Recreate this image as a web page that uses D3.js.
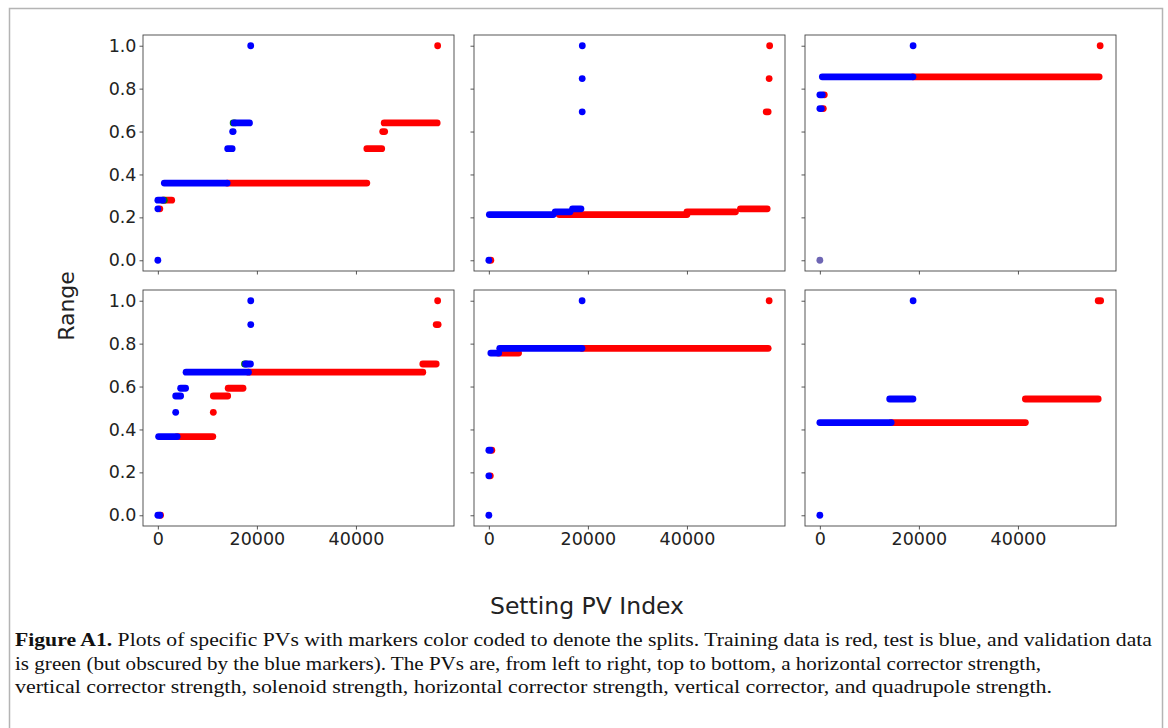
<!DOCTYPE html>
<html>
<head>
<meta charset="utf-8">
<script src="https://cdn.jsdelivr.net/npm/d3@7"></script>
<style>
  body { margin: 0; background: #fff; }
  svg { display: block; }
</style>
</head>
<body>
<svg width="1168" height="728"></svg>
<script>
// one entry per panel, left to right, top to bottom
// each run is [firstIndex, lastIndex, range]; a single point has firstIndex == lastIndex
var pvNames = ['horizontal corrector', 'vertical corrector', 'solenoid',
    'horizontal corrector', 'vertical corrector', 'quadrupole'];

var trainRuns = [
    [[400, 400, 0.24], [1200, 2800, 0.28], [14000, 42200, 0.36], [42200, 45200, 0.52], [45400, 45800, 0.60], [45700, 56400, 0.64], [56500, 56500, 1.0]],
    [[400, 400, 0], [14200, 40000, 0.213], [40000, 49800, 0.226], [50800, 56200, 0.24], [56000, 56400, 0.692], [56600, 56600, 0.847], [56700, 56700, 1.0]],
    [[700, 700, 0.707], [900, 900, 0.771], [18800, 56400, 0.855], [56600, 56600, 1.0]],
    [[550, 550, 0], [3900, 11100, 0.367], [11200, 11200, 0.48], [11200, 14100, 0.556], [14200, 17200, 0.592], [18300, 53500, 0.667], [53500, 56200, 0.705], [56200, 56600, 0.889], [56500, 56500, 1.0]],
    [[300, 300, 0.184], [600, 600, 0.303], [1900, 6000, 0.756], [18800, 56400, 0.778], [56600, 56600, 1.0]],
    [[14400, 41500, 0.432], [41500, 56200, 0.542], [56200, 56700, 1.0]]
];

var validRuns = [
    [[1000, 1300, 0.28], [15200, 15500, 0.64]],
    [],
    [],
    [[17500, 17800, 0.705]],
    [],
    []
];

var testRuns = [
    [[0, 0, 0], [0, 0, 0.24], [0, 1000, 0.28], [1300, 14000, 0.36], [14100, 15000, 0.52], [15100, 15200, 0.60], [15400, 18500, 0.64], [18750, 18750, 1.0]],
    [[0, 0, 0], [100, 13000, 0.213], [13400, 16400, 0.226], [16900, 18600, 0.24], [18850, 18850, 0.692], [18850, 18850, 0.847], [18870, 18870, 1.0]],
    [[0, 300, 0.707], [0, 500, 0.771], [500, 18800, 0.855], [18830, 18830, 1.0]],
    [[0, 400, 0], [150, 3900, 0.367], [3600, 3600, 0.48], [3600, 4600, 0.556], [4600, 5600, 0.592], [5700, 18300, 0.667], [17700, 18700, 0.705], [18760, 18760, 0.889], [18760, 18760, 1.0]],
    [[0, 0, 0], [0, 0, 0.184], [0, 300, 0.303], [400, 2000, 0.756], [2200, 18800, 0.778], [18830, 18830, 1.0]],
    [[0, 0, 0], [0, 14400, 0.432], [14100, 18800, 0.542], [18830, 18830, 1.0]]
];

// all three splits stacked on the same point (shows as a mixed colour)
var mixedPoints = [[], [], [[0, 0, 0]], [], [], []];

var xTicks = [0, 20000, 40000];
var yTicks = [0, 0.2, 0.4, 0.6, 0.8, 1.0];

var captionLines = [
    { bold: 'Figure A1.', text: ' Plots of specific PVs with markers color coded to denote the splits. Training data is red, test is blue, and validation data', width: 1137 },
    { bold: '', text: 'is green (but obscured by the blue markers). The PVs are, from left to right, top to bottom, a horizontal corrector strength,', width: 1026 },
    { bold: '', text: 'vertical corrector strength, solenoid strength, horizontal corrector strength, vertical corrector, and quadrupole strength.', width: 1037 }
];

var svg = d3.select('svg');

// figure frame
svg.append('rect')
    .attr('x', 9.5).attr('y', 8.5)
    .attr('width', 1153).attr('height', 760)
    .attr('fill', 'none')
    .attr('stroke', '#b4b4b4')
    .attr('stroke-width', 1.5);

var panelW = 311, panelH = 236;
var left0 = 143, colStep = 331;
var top0 = 35, rowStep = 255;
var r = 3.4;

var x = d3.scaleLinear().domain([-3000, 59800]).range([0, panelW]);
var y = d3.scaleLinear().domain([-0.05, 1.05]).range([panelH, 0]);

var splits = [
    { runs: trainRuns, color: '#ff0000' },
    { runs: validRuns, color: '#008000' },
    { runs: testRuns, color: '#0000ff' },
    { runs: mixedPoints, color: '#6e66b4' }
];

pvNames.forEach(function (name, i) {
    var col = i % 3, row = Math.floor(i / 3);
    var g = svg.append('g')
        .attr('class', 'panel')
        .attr('transform', 'translate(' + (left0 + col * colStep) + ',' + (top0 + row * rowStep) + ')');

    var yAxis = d3.axisLeft(y).tickValues(yTicks).tickSize(3.5).tickPadding(3)
        .tickFormat(col === 0 ? d3.format('.1f') : '');
    var xAxis = d3.axisBottom(x).tickValues(xTicks).tickSize(3.5).tickPadding(3)
        .tickFormat(row === 1 ? d3.format('d') : '');

    var ya = g.append('g').call(yAxis);
    var xa = g.append('g').attr('transform', 'translate(0,' + panelH + ')').call(xAxis);
    [ya, xa].forEach(function (a) {
        a.select('.domain').remove();
        a.selectAll('line').attr('stroke', '#444').attr('stroke-width', 0.9);
        a.selectAll('text')
            .attr('fill', '#222')
            .style('font-family', 'DejaVu Sans')
            .style('font-size', '17.5px');
    });

    splits.forEach(function (s) {
        g.selectAll(null)
            .data(s.runs[i])
            .enter().append('rect')
            .attr('x', function (d) { return x(d[0]) - r; })
            .attr('y', function (d) { return y(d[2]) - r; })
            .attr('width', function (d) { return x(d[1]) - x(d[0]) + 2 * r; })
            .attr('height', 2 * r)
            .attr('rx', r)
            .attr('fill', s.color);
    });

    g.append('rect')
        .attr('width', panelW).attr('height', panelH)
        .attr('fill', 'none')
        .attr('stroke', '#444')
        .attr('stroke-width', 0.9);
});

svg.append('text')
    .attr('transform', 'translate(74,306) rotate(-90)')
    .attr('text-anchor', 'middle')
    .attr('fill', '#222')
    .style('font-family', 'DejaVu Sans')
    .style('font-size', '22px')
    .text('Range');

svg.append('text')
    .attr('x', 587).attr('y', 614)
    .attr('text-anchor', 'middle')
    .attr('fill', '#222')
    .style('font-family', 'DejaVu Sans')
    .style('font-size', '23.5px')
    .text('Setting PV Index');

var cap = svg.selectAll('.caption')
    .data(captionLines)
    .enter().append('text')
    .attr('class', 'caption')
    .attr('x', 15)
    .attr('y', function (d, i) { return 646 + i * 23.5; })
    .attr('textLength', function (d) { return d.width; })
    .attr('lengthAdjust', 'spacingAndGlyphs')
    .attr('fill', '#111')
    .style('font-family', 'Liberation Serif')
    .style('font-size', '18px');

cap.append('tspan').style('font-weight', 'bold').text(function (d) { return d.bold; });
cap.append('tspan').text(function (d) { return d.text; });
</script>
</body>
</html>
